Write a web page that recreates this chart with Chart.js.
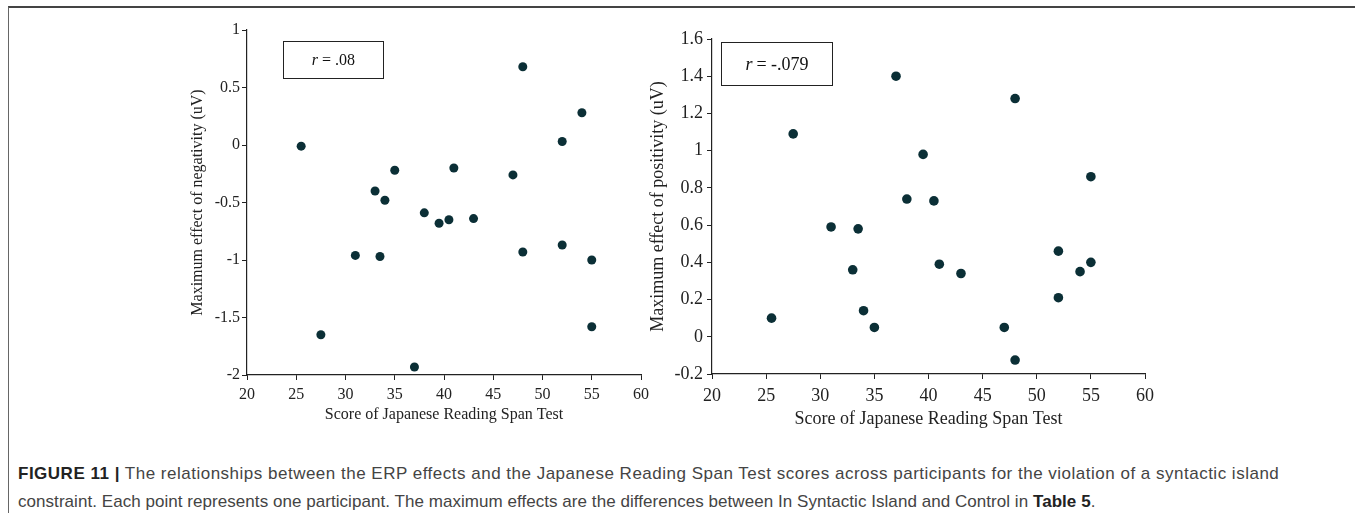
<!DOCTYPE html>
<html>
<head>
<meta charset="utf-8">
<script src="https://cdn.jsdelivr.net/npm/chart.js@4/dist/chart.umd.min.js"></script>
<style>
  html, body { margin: 0; padding: 0; background: #fff; }
  body { width: 1355px; height: 513px; position: relative; overflow: hidden; }
  .frame {
    position: absolute; left: 8px; top: 6px; width: 1400px; height: 560px;
    border-left: 1.5px solid #666; border-top: 2px solid #444;
  }
  .plot { position: absolute; }
  .rbox {
    position: absolute; box-sizing: border-box; border: 1.5px solid #222;
    font-family: "Liberation Serif", "Times New Roman", serif; color: #111;
    display: flex; align-items: center; justify-content: center;
  }
  .rbox i { margin-right: 4px; }
  .caption {
    position: absolute; left: 18px; top: 460px;
    font-family: "Liberation Sans", Arial, sans-serif; font-size: 17px;
    line-height: 28px; color: #444; white-space: nowrap;
  }
  .caption .l1 { letter-spacing: 0.5px; }
  .caption .l2 { letter-spacing: 0.05px; }
  .caption b { color: #222; }
</style>
</head>
<body>
<div class="frame"></div>
<canvas id="neg" class="plot" style="left:170px;top:10px;" width="490" height="420"></canvas>
<canvas id="pos" class="plot" style="left:630px;top:10px;" width="540" height="420"></canvas>
<div class="rbox" style="left:283px;top:41px;width:101px;height:38px;font-size:16px;"><i>r</i>= .08</div>
<div class="rbox" style="left:721px;top:42px;width:112px;height:44px;font-size:18px;"><i>r</i>= -.079</div>
<div class="caption">
  <span class="l1"><b>FIGURE 11 |</b> The relationships between the ERP effects and the Japanese Reading Span Test scores across participants for the violation of a syntactic island</span><br>
  <span class="l2">constraint. Each point represents one participant. The maximum effects are the differences between In Syntactic Island and Control in <b>Table 5</b>.</span>
</div>
<script>
// Reading span scores, one per participant
const spanScores = [25.5, 27.5, 31, 33, 33.5, 34, 35, 37, 38, 39.5, 40.5, 41, 43, 47, 48, 48, 52, 52, 54, 55, 55];
// Maximum negativity effect (uV) for each participant
const negativity = [-0.01, -1.65, -0.96, -0.40, -0.97, -0.48, -0.22, -1.93, -0.59, -0.68, -0.65, -0.20, -0.64, -0.26, 0.68, -0.93, 0.03, -0.87, 0.28, -1.00, -1.58];
// Maximum positivity effect (uV), same participant order as the negativity list
const posScores = [25.5, 27.5, 31, 33, 33.5, 34, 35, 37, 38, 39.5, 40.5, 41, 43, 47, 48, 48, 52, 52, 54, 55, 55];
const positivity = [0.10, 1.09, 0.59, 0.36, 0.58, 0.14, 0.05, 1.40, 0.74, 0.98, 0.73, 0.39, 0.34, 0.05, 1.28, -0.125, 0.46, 0.21, 0.35, 0.86, 0.40];

// Tick labels
const xTickLabels = ['20', '25', '30', '35', '40', '45', '50', '55', '60'];
const negTickLabels = ['-2', '-1.5', '-1', '-0.5', '0', '0.5', '1'];
const posTickLabels = ['-0.2', '0', '0.2', '0.4', '0.6', '0.8', '1', '1.2', '1.4', '1.6'];

const ink = '#222';
const dotColor = '#0b2f36';

function toPoints(xs, ys) {
  return xs.map((x, i) => ({ x: x, y: ys[i] }));
}

function fixedTicks(labels) {
  return {
    afterBuildTicks: s => { s.ticks = labels.map(l => ({ value: parseFloat(l) })); },
    callback: v => labels.find(l => parseFloat(l) === v) ?? ''
  };
}

function makeScatter(id, pts, yLabels, yTitle, o) {
  const xt = fixedTicks(xTickLabels);
  const yt = fixedTicks(yLabels);
  return new Chart(document.getElementById(id), {
    type: 'scatter',
    data: {
      datasets: [{
        data: pts,
        pointRadius: o.r,
        pointHoverRadius: o.r,
        backgroundColor: dotColor,
        borderWidth: 0
      }]
    },
    options: {
      responsive: false,
      animation: false,
      events: [],
      layout: { padding: { left: 0, top: o.padTop, right: o.padRight, bottom: 0 } },
      plugins: { legend: { display: false }, tooltip: { enabled: false } },
      scales: {
        x: {
          type: 'linear',
          min: parseFloat(xTickLabels[0]),
          max: parseFloat(xTickLabels[xTickLabels.length - 1]),
          afterBuildTicks: xt.afterBuildTicks,
          afterFit: s => { s.height = o.xHeight; },
          grid: { drawOnChartArea: false, drawTicks: true, tickLength: 5, color: ink, lineWidth: 1 },
          border: { display: true, color: ink, width: 1.2 },
          ticks: {
            callback: xt.callback, autoSkip: false, maxRotation: 0, padding: o.xTickPad,
            color: ink, font: { family: '"Liberation Serif", serif', size: o.font }
          },
          title: {
            display: true, text: 'Score of Japanese Reading Span Test', color: ink,
            font: { family: '"Liberation Serif", serif', size: o.font },
            padding: { top: 0, bottom: o.xTitlePad }
          }
        },
        y: {
          type: 'linear',
          min: parseFloat(yLabels[0]),
          max: parseFloat(yLabels[yLabels.length - 1]),
          afterBuildTicks: yt.afterBuildTicks,
          afterFit: s => { s.width = o.yWidth; },
          grid: { drawOnChartArea: false, drawTicks: true, tickLength: 5, color: ink, lineWidth: 1 },
          border: { display: true, color: ink, width: 1.2 },
          ticks: {
            callback: yt.callback, autoSkip: false, padding: o.yTickPad,
            color: ink, font: { family: '"Liberation Serif", serif', size: o.font }
          },
          title: {
            display: true, text: yTitle, color: ink,
            font: { family: '"Liberation Serif", serif', size: o.font },
            padding: { top: o.yTitlePad, bottom: 0 }
          }
        }
      }
    }
  });
}

makeScatter('neg', toPoints(spanScores, negativity), negTickLabels,
  'Maximum effect of negativity (uV)',
  { r: 4.5, font: 16, padTop: 20, padRight: 19, xHeight: 55, yWidth: 77,
    xTickPad: 5, yTickPad: 2, xTitlePad: 6, yTitlePad: 18 });

makeScatter('pos', toPoints(posScores, positivity), posTickLabels,
  'Maximum effect of positivity (uV)',
  { r: 4.8, font: 18, padTop: 29, padRight: 25, xHeight: 56, yWidth: 82,
    xTickPad: 6, yTickPad: 4, xTitlePad: 0, yTitlePad: 17 });
</script>
</body>
</html>
